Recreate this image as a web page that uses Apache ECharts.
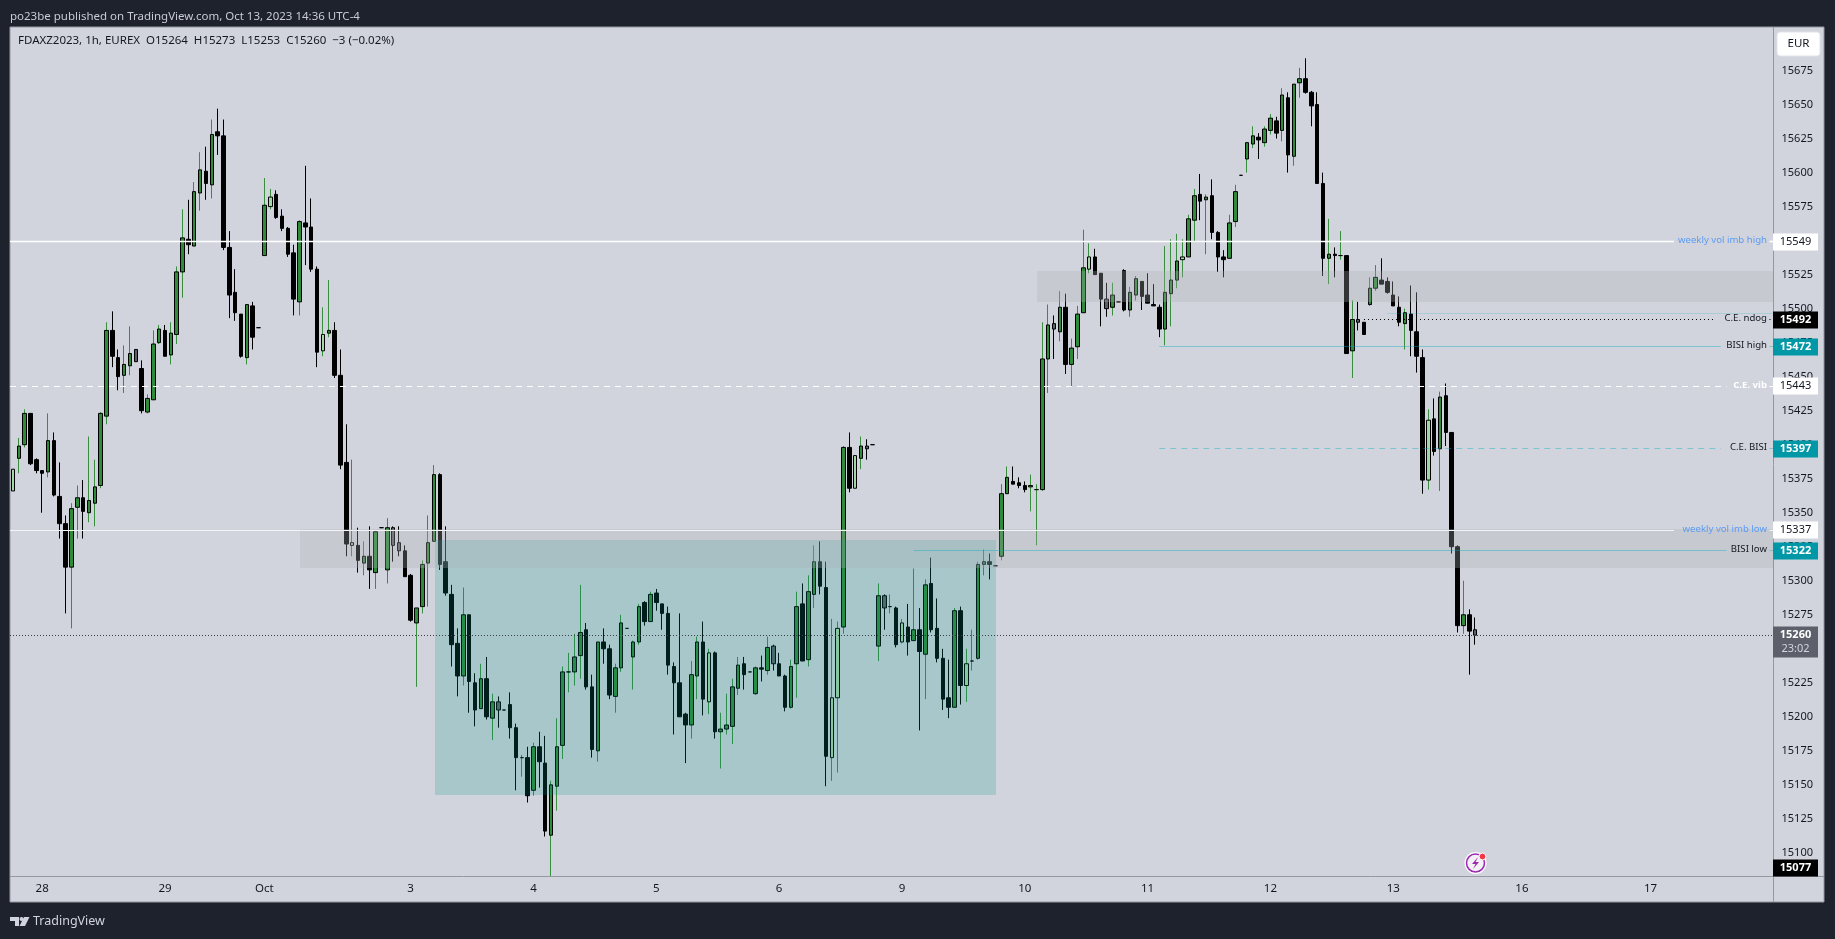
<!DOCTYPE html>
<html><head><meta charset="utf-8">
<style>html,body{margin:0;padding:0;background:#1e222d;overflow:hidden}#c{width:1835px;height:939px}</style>
<script src="https://cdn.jsdelivr.net/npm/echarts@6/dist/echarts.min.js"></script>
</head><body><div id="c"></div>
<script>
// [open, high, low, close]
const barsSep28toOct2 = [
[15366,15382,15366,15382],[15390,15405,15379,15399],[15400,15426,15398,15423],[15423,15423,15385,15386],[15389,15390,15379,15381],
[15381,15381,15350,15379],[15380,15423,15376,15403],[15403,15409,15362,15363],[15362,15387,15331,15342],[15342,15348,15276,15310],
[15310,15357,15265,15353],[15354,15370,15331,15361],[15361,15374,15331,15351],[15350,15406,15343,15359],[15357,15389,15340,15369],
[15370,15424,15368,15423],[15421,15490,15415,15484],[15484,15498,15457,15465],[15464,15470,15440,15450],[15451,15473,15438,15459],
[15458,15487,15451,15467],[15461,15470,15461,15470],[15456,15462,15423,15425],[15424,15437,15423,15434],[15433,15484,15433,15474],
[15475,15488,15474,15485],[15484,15488,15465,15465],[15466,15490,15459,15482],[15481,15531,15474,15527],[15527,15573,15508,15552],
[15551,15580,15540,15547],[15546,15593,15546,15586],[15585,15615,15572,15602],[15601,15619,15580,15592],[15591,15639,15581,15628],
[15630,15647,15613,15627],[15627,15639,15543,15545],[15545,15557,15493,15510],[15512,15529,15491,15497],[15496,15496,15464,15465],
[15464,15503,15459,15503],[15502,15505,15470,15479],[15486,15486,15486,15486],[15539,15596,15539,15576],[15575,15588,15573,15582],
[15584,15587,15566,15567],[15568,15573,15557,15559],[15559,15560,15538,15540],[15541,15547,15495,15507],[15505,15565,15495,15564],
[15563,15605,15532,15560],[15560,15581,15527,15529],[15529,15531,15457,15468],[15469,15501,15465,15481],[15482,15521,15479,15484],
[15484,15490,15449,15451],[15451,15470,15382,15385],[15387,15415,15318,15327],[15326,15389,15318,15328],[15326,15339,15306,15315],
[15313,15329,15304,15318],[15318,15340,15294,15308],[15306,15336,15294,15336],[15339,15339,15339,15339],[15308,15346,15298,15339],
[15339,15340,15314,15326],[15328,15340,15318,15322],[15322,15326,15303,15303],[15304,15305,15270,15271],[15269,15280,15222,15280],
[15281,15315,15276,15312],[15313,15348,15281,15328],[15329,15385,15329,15378],[15378,15379,15308,15312],[15314,15340,15289,15291],
[15290,15297,15237,15253],[15254,15265,15215,15230],[15230,15295,15223,15275],[15275,15275,15203,15226],[15225,15232,15193,15205],
[15206,15239,15206,15228],[15228,15244,15198,15200],[15199,15217,15183,15211],[15211,15215,15192,15205]];
const barsOct4toOct6 = [
[15205,15205,15205,15205],[15209,15218,15184,15192],[15192,15195,15146,15170],[15170,15172,15156,15170],[15170,15178,15137,15142],
[15146,15181,15142,15178],[15178,15189,15148,15167],[15166,15186,15112,15116],[15113,15153,15083,15150],[15149,15199,15131,15178],
[15179,15237,15169,15233],[15233,15247,15218,15233],[15233,15261,15223,15244],[15245,15297,15228,15262],[15264,15269,15220,15222],
[15222,15231,15170,15176],[15175,15255,15167,15255],[15255,15265,15239,15250],[15250,15253,15213,15216],[15215,15239,15203,15236],
[15236,15275,15233,15269],[15265,15265,15265,15265],[15244,15256,15220,15255],[15255,15283,15253,15281],[15284,15285,15267,15270],
[15270,15292,15270,15290],[15291,15294,15278,15284],[15283,15283,15264,15276],[15276,15281,15231,15238],[15237,15240,15187,15225],
[15225,15276,15200,15200],[15202,15203,15166,15194],[15194,15241,15184,15231],[15230,15259,15213,15255],[15255,15270,15201,15213],
[15211,15250,15202,15247],[15247,15248,15184,15189],[15189,15203,15162,15191],[15191,15217,15187,15194],[15193,15228,15180,15222],
[15221,15244,15216,15238],[15239,15244,15220,15231],[15233,15233,15233,15233],[15217,15237,15216,15236],[15236,15245,15226,15235],
[15234,15259,15231,15251],[15252,15253,15234,15239],[15239,15247,15230,15230],[15230,15231,15204,15207],[15207,15242,15206,15237],
[15239,15292,15214,15281],[15283,15298,15241,15241],[15242,15304,15237,15292],[15290,15326,15280,15314],[15314,15329,15290,15296],
[15295,15314,15149,15171],[15170,15272,15153,15214],[15214,15270,15159,15265],[15266,15399,15261,15398],[15398,15409,15365,15368],
[15368,15392,15368,15392],[15390,15406,15382,15399],[15399,15404,15389,15397],[15400,15400,15400,15400]];
const barsOct9toOct11 = [
[15252,15298,15241,15289],[15289,15290,15264,15280],[15281,15290,15276,15281],[15280,15281,15251,15253],[15255,15272,15254,15269],
[15266,15283,15245,15255],[15256,15309,15256,15264],[15264,15280,15190,15248],[15246,15301,15213,15297],[15298,15317,15262,15264],
[15265,15287,15240,15243],[15243,15250,15205,15213],[15214,15242,15199,15207],[15207,15280,15207,15278],[15278,15281,15209,15223],
[15223,15250,15211,15239],[15241,15264,15234,15241],[15243,15314,15242,15312],[15312,15323,15304,15314],[15314,15320,15301,15312],
[15311,15311,15311,15311],[15318,15371,15315,15364],[15364,15384,15364,15376],[15373,15384,15371,15371],[15372,15376,15368,15370],
[15370,15373,15365,15367],[15369,15378,15351,15370],[15367,15371,15326,15367],[15367,15490,15366,15463],[15463,15503,15438,15488],
[15489,15495,15463,15485],[15483,15513,15476,15501],[15501,15511,15452,15459],[15459,15478,15443,15471],[15472,15502,15463,15496],
[15497,15558,15497,15530],[15529,15548,15526,15538],[15538,15544,15525,15525],[15526,15526,15487,15507],[15507,15519,15494,15500],
[15501,15519,15495,15510],[15505,15505,15505,15505],[15528,15529,15498,15499],[15499,15516,15494,15512],[15510,15524,15506,15522],
[15520,15520,15499,15509],[15510,15526,15504,15504],[15503,15518,15502,15502],[15501,15503,15479,15485],[15485,15546,15473,15512],
[15511,15551,15487,15521],[15521,15555,15515,15535],[15536,15551,15523,15538],[15538,15569,15538,15566],[15565,15588,15549,15583],
[15584,15599,15565,15579],[15580,15584,15540,15582],[15583,15595,15551,15556],[15556,15557,15527,15538],[15538,15543,15523,15536],
[15537,15569,15537,15563],[15564,15591,15560,15586],[15598,15598,15598,15598]];
const barsOct12toOct13 = [
[15610,15622,15600,15622],[15621,15634,15618,15627],[15626,15629,15610,15624],[15622,15634,15619,15632],[15631,15643,15628,15640],
[15638,15641,15625,15629],[15631,15662,15623,15657],[15655,15659,15600,15613],[15612,15665,15605,15665],[15666,15677,15655,15669],
[15669,15684,15658,15659],[15659,15660,15634,15649],[15650,15659,15592,15592],[15592,15600,15524,15537],[15537,15566,15518,15540],
[15540,15545,15523,15539],[15539,15557,15536,15539],[15539,15539,15467,15467],[15469,15506,15449,15492],[15492,15505,15484,15490],
[15490,15490,15481,15481],[15503,15523,15502,15515],[15515,15532,15513,15523],[15521,15537,15518,15518],[15520,15523,15511,15512],
[15510,15520,15502,15502],[15501,15509,15487,15490],[15489,15500,15470,15497],[15496,15517,15465,15484],[15483,15512,15453,15465],
[15464,15470,15364,15374],[15374,15426,15367,15418],[15419,15434,15392,15395],[15397,15439,15366,15435],[15436,15445,15399,15409],
[15409,15409,15320,15325],[15325,15326,15262,15267],[15267,15300,15261,15275],[15275,15279,15231,15263],[15264,15273,15253,15260]];
const lightBars = [0,44,53,58,119,140,141,144,152,163,184,200,242];
const grayBars = [21,65,66,83,130,146,149,178,187,230,250];
const dayLabels = ['28','29','Oct','3','4','5','6','9','10','11','12','13','16','17'];
const dayBars = [5,26,43,68,89,110,131,152,173,194,215,236,258,280];
const priceTicks = [15100,15125,15150,15175,15200,15225,15250,15275,15300,15325,15350,15375,15400,15425,15450,15475,15500,15525,15550,15575,15600,15625,15650,15675];
const slotCount = 301;
const zoneTeal = [72,168,15142.5,15330];
const zoneLow = [49,300,15309,15338];
const zoneHigh = [175,300,15505,15527.7];
// level: price, first bar, label text, bar at which the line stops for the label
const levelPrices = [15549,15337,15443,15492,15472,15397,15322,15496.5,15260];
const levelStarts = [0,0,0,231,196,196,154,235,0];
const levelTexts = ['weekly vol imb high','weekly vol imb low','C.E. vib','C.E. ndog','BISI high','C.E. BISI','BISI low','',''];
const levelStops = [284,284,293,291,292,292,293,300,300];
const tagPrices = [15549,15492,15472,15443,15397,15337,15322,15260,15077];
const tagTexts = ['15549','15492','15472','15443','15397','15337','15322','15260','15077'];
const countdown = '23:02';

const FONT = '"Noto Sans"';
const AXIS_X = 1773;
const candles = barsSep28toOct2.concat(barsOct4toOct6, barsOct9toOct11, barsOct12toOct13);
const categories = Array.from({length:slotCount},(_,i)=>{const k=dayBars.indexOf(i);return k<0?'':dayLabels[k];});
const UP='#2e8b37', UPW='#388e3c', LIGHT='#a5d6a7', GRAY='#5d606b', BLK='#000000';
function bodyItem(c,i){
  const [o,h,l,cl]=c, lo=Math.min(o,cl), hi=Math.max(o,cl);
  const fill = lightBars.includes(i)?LIGHT:grayBars.includes(i)?GRAY:(cl>=o?UP:BLK);
  return {value:[o,cl,lo,hi],itemStyle:{color:fill,color0:fill,borderColor:BLK,borderColor0:BLK,borderWidth:1}};
}
function wickItem(c,i){
  const [o,h,l,cl]=c;
  const col = (!grayBars.includes(i)&&cl>=o)?UPW:BLK;
  return {value:[o,cl,l,h],itemStyle:{color:col,color0:col,borderColor:col,borderColor0:col,borderWidth:1}};
}
const levelStyles = [
 {stroke:'#ffffff',lineWidth:1.6,text:'#5b9cf6'},
 {stroke:'#f3f4f6',lineWidth:1,text:'#5b9cf6'},
 {stroke:'#ffffff',lineWidth:1,lineDash:[6,5],text:'#ffffff',bold:true},
 {stroke:'#000000',lineWidth:1,lineDash:[1,3],text:'#131722'},
 {stroke:'rgba(0,172,193,0.4)',lineWidth:1,text:'#131722'},
 {stroke:'rgba(0,172,193,0.4)',lineWidth:1,lineDash:[6,5],text:'#131722'},
 {stroke:'rgba(0,172,193,0.4)',lineWidth:1,text:'#131722'},
 {stroke:'rgba(0,172,193,0.18)',lineWidth:1,text:'#131722'},
 {stroke:'#3c4048',lineWidth:1,lineDash:[1,2],text:'#131722'}];
const tagStyles = [
 {bg:'#ffffff',fg:'#131722'},{bg:'#000000',fg:'#ffffff',w:700},{bg:'#0097a7',fg:'#ffffff',w:700},{bg:'#ffffff',fg:'#131722'},
 {bg:'#0097a7',fg:'#ffffff',w:700},{bg:'#ffffff',fg:'#131722'},{bg:'#0097a7',fg:'#ffffff',w:700},{bg:'#5d606b',fg:'#ffffff',w:700,tall:true},{bg:'#000000',fg:'#ffffff',w:700,clamp:true}];

const chart = echarts.init(document.getElementById('c'),null,{width:1835,height:939});
chart.setOption({
  animation:false,
  backgroundColor:'#1e222d',
  textStyle:{fontFamily:FONT},
  grid:{left:10,top:27,width:1760.5,height:849,containLabel:false},
  xAxis:{type:'category',data:categories,boundaryGap:true,
    axisLine:{show:false},axisTick:{show:false},splitLine:{show:false},
    axisLabel:{interval:0,color:'#131722',fontSize:11.5,fontFamily:FONT,margin:7,hideOverlap:false}},
  yAxis:{type:'value',position:'right',min:15083,max:15707,scale:true,
    axisLine:{show:false},axisTick:{show:false},splitLine:{show:false},
    axisLabel:{customValues:priceTicks,formatter:v=>String(v),color:'#131722',fontSize:11,fontFamily:FONT,margin:11,showMinLabel:true,showMaxLabel:true}},
  tooltip:{show:false},
  graphic:{elements:[
    {type:'rect',z:-10,silent:true,shape:{x:10,y:27,width:1814,height:875},style:{fill:'#d1d4dc',stroke:'#9598a1',lineWidth:1}},
    {type:'line',z:1,silent:true,shape:{x1:AXIS_X+0.5,y1:27,x2:AXIS_X+0.5,y2:902},style:{stroke:'#9598a1',lineWidth:1}},
    {type:'line',z:1,silent:true,shape:{x1:10,y1:876.5,x2:1824,y2:876.5},style:{stroke:'#9598a1',lineWidth:1}},
    {type:'text',silent:true,style:{x:10,y:17,text:'po23be published on TradingView.com, Oct 13, 2023 14:36 UTC-4',fill:'#c8cbd3',font:'11.5px '+FONT,verticalAlign:'middle'}},
    {type:'text',z:50,silent:true,style:{x:18,y:41,text:'FDAXZ2023, 1h, EUREX  O15264  H15273  L15253  C15260  \u22123 (\u22120.02%)',fill:'#131722',font:'11.5px '+FONT,verticalAlign:'middle'}},
    {type:'rect',z:50,silent:true,shape:{x:1777,y:32,width:43,height:24,r:3},style:{fill:'#ffffff',stroke:'#e0e3eb',lineWidth:1}},
    {type:'text',z:51,silent:true,style:{x:1798.5,y:44,text:'EUR',fill:'#131722',font:'11.5px '+FONT,align:'center',verticalAlign:'middle'}},
    {type:'polygon',silent:true,shape:{points:[[10,917],[19,917],[19,926],[15,926],[15,921],[10,921]]},style:{fill:'#d1d4dc'}},
    {type:'circle',silent:true,shape:{cx:21.5,cy:919,r:2},style:{fill:'#d1d4dc'}},
    {type:'polygon',silent:true,shape:{points:[[24,917],[29.5,917],[25,926],[19.5,926]]},style:{fill:'#d1d4dc'}},
    {type:'text',silent:true,style:{x:33,y:921,text:'TradingView',fill:'#d1d4dc',font:'12.5px '+FONT,verticalAlign:'middle'}},
    {type:'circle',z:60,silent:true,shape:{cx:1475.5,cy:863,r:11},style:{fill:'#ffffff'}},
    {type:'circle',z:61,silent:true,shape:{cx:1475.5,cy:863,r:9},style:{fill:'#f3f0f6',stroke:'#9c27b0',lineWidth:1.5}},
    {type:'polygon',z:62,silent:true,shape:{points:[[1478,857],[1472,864],[1475.5,864],[1473,869],[1479,862],[1475.5,862]]},style:{fill:'#9c27b0'}},
    {type:'circle',z:63,silent:true,shape:{cx:1482.5,cy:856.5,r:3.4},style:{fill:'#f23645',stroke:'#ffffff',lineWidth:1}}
  ]},
  series:[
    {name:'wicks',type:'candlestick',z:2,barWidth:1,data:candles.map(wickItem),silent:true,clip:true},
    {name:'bodies',type:'candlestick',z:3,barWidth:4,data:candles.map(bodyItem),silent:true,clip:true},
    {name:'zones',type:'custom',z:5,silent:true,coordinateSystem:'cartesian2d',clip:false,
      data:[zoneTeal,zoneLow,zoneHigh],encode:{x:[0,1],y:[2,3]},
      renderItem(p,api){
        const a=api.coord([api.value(0),api.value(3)]), b=api.coord([api.value(1),api.value(2)]);
        const x2=api.value(1)>=slotCount-1?AXIS_X:b[0];
        const x1=Math.ceil(a[0]);
        return {type:'rect',shape:{x:x1,y:Math.round(a[1]),width:Math.round(x2-x1),height:Math.round(b[1]-a[1])},
          style:{fill:p.dataIndex===0?'rgba(0,150,136,0.2)':'rgba(172,175,183,0.3)'}};
      }},
    {name:'levels',type:'custom',z:6,silent:true,coordinateSystem:'cartesian2d',clip:false,
      data:levelPrices.map((v,i)=>[levelStarts[i],v,levelStops[i],i]),encode:{x:0,y:1},
      renderItem(p,api){
        const g=p.coordSys, right=AXIS_X, i=api.value(3), s=levelStyles[i], txt=levelTexts[i];
        const y=Math.floor(api.coord([0,api.value(1)])[1])+0.5;
        const x1=api.value(0)===0?g.x:api.coord([api.value(0),0])[0];
        const x2=txt?api.coord([api.value(2),0])[0]:right;
        const st={stroke:s.stroke,lineWidth:s.lineWidth,lineDash:s.lineDash||null};
        const kids=[{type:'line',shape:{x1,y1:y,x2,y2:y},style:st}];
        if(txt){
          kids.push({type:'line',shape:{x1:right-3.5,y1:y,x2:right,y2:y},style:st});
          kids.push({type:'text',style:{x:right-6,y:y-1,text:txt,fill:s.text,align:'right',verticalAlign:'middle',font:(s.bold?'700 ':'')+'9.6px '+FONT}});
        }
        return {type:'group',children:kids};
      }},
    {name:'tags',type:'custom',z:8,silent:true,coordinateSystem:'cartesian2d',clip:false,
      data:tagPrices.map((v,i)=>[slotCount-1,v,i]),encode:{x:0,y:1},
      renderItem(p,api){
        const g=p.coordSys, i=api.value(2), s=tagStyles[i], x=AXIS_X;
        let y=Math.round(api.coord([0,api.value(1)])[1]);
        if(s.clamp) y=Math.min(y,g.y+g.height-8);
        const kids=[{type:'rect',shape:{x:x,y:y-8.5,width:45,height:s.tall?31:17},style:{fill:s.bg}},
          {type:'text',style:{x:x+22.5,y:y,text:tagTexts[i],fill:s.fg,align:'center',verticalAlign:'middle',font:(s.w||400)+' 11px '+FONT}}];
        if(s.tall) kids.push({type:'text',style:{x:x+22.5,y:y+14,text:countdown,fill:'#d1d4dc',align:'center',verticalAlign:'middle',font:'11px '+FONT}});
        return {type:'group',children:kids};
      }}
  ]
});
</script></body></html>
